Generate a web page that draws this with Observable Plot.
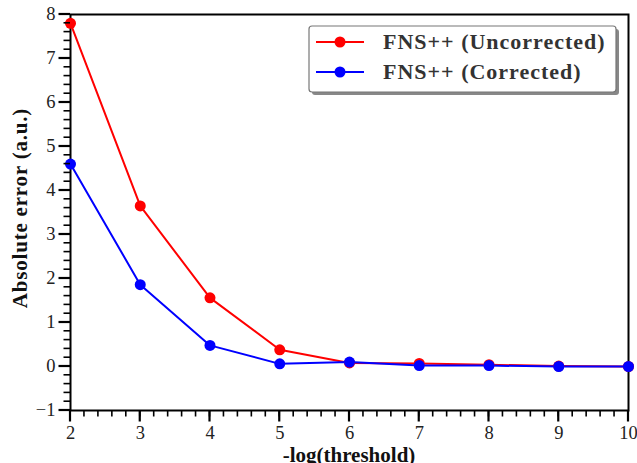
<!DOCTYPE html>
<html><head><meta charset="utf-8">
<script src="https://cdn.jsdelivr.net/npm/d3@7"></script>
<script src="https://cdn.jsdelivr.net/npm/@observablehq/plot@0.6"></script>
<style>
html,body{margin:0;padding:0;background:#fff;}
#chart{position:relative;width:637px;height:463px;overflow:hidden;}
</style>
</head><body><div id="chart"></div>
<script>
const thresholds = [2, 3, 4, 5, 6, 7, 8, 9, 10];
const uncorrected = [7.8, 3.65, 1.56, 0.38, 0.08, 0.07, 0.04, 0.01, 0.0];
const corrected = [4.6, 1.86, 0.48, 0.06, 0.10, 0.02, 0.02, 0.0, 0.0];
const seriesNames = ["FNS++ (Uncorrected)", "FNS++ (Corrected)"];
const seriesColors = ["#ff0000", "#0000ff"];
const xTicks = [2, 3, 4, 5, 6, 7, 8, 9, 10];
const yTicks = [-1, 0, 1, 2, 3, 4, 5, 6, 7, 8];
const xMinor = d3.range(2, 10.001, 0.2);
const yMinor = d3.range(-1, 8.001, 0.2);

const data = [];
thresholds.forEach((t, i) => {
  data.push({x: t, y: uncorrected[i], s: seriesNames[0]});
  data.push({x: t, y: corrected[i], s: seriesNames[1]});
});

const font = "'Liberation Serif', 'Times New Roman', serif";
const plot = Plot.plot({
  width: 637, height: 463,
  marginLeft: 70, marginRight: 9, marginTop: 14, marginBottom: 53,
  style: {fontFamily: font, fontSize: "18.5px", color: "#000", background: "#fff"},
  x: {domain: [2, 10], label: null},
  y: {domain: [-1, 8], label: null},
  color: {domain: seriesNames, range: seriesColors},
  marks: [
    Plot.axisX({ticks: xTicks, tickSize: 0, tickPadding: 15, fontSize: 18.5, fill: "#222", label: null, tickFormat: d3.format("d")}),
    Plot.axisY({ticks: yTicks, tickSize: 0, tickPadding: 15, fontSize: 18.5, fill: "#222", label: null, tickFormat: d3.format("d")}),
    Plot.frame({stroke: "#000", strokeWidth: 2}),
    Plot.line(data, {x: "x", y: "y", z: "s", stroke: "s", strokeWidth: 2}),
    Plot.dot(data, {x: "x", y: "y", fill: "s", r: 5.5})
  ]
});
document.getElementById("chart").appendChild(plot);

const svg = d3.select(plot);
const psx = plot.scale("x"), psy = plot.scale("y");
const sx = d3.scaleLinear().domain(psx.domain).range(psx.range);
const sy = d3.scaleLinear().domain(psy.domain).range(psy.range);
const x0 = sx(2), y0 = sy(-1);
const tg = svg.append("g");
function tick(x1, y1, x2, y2, w) {
  tg.append("line").attr("x1", x1).attr("y1", y1).attr("x2", x2).attr("y2", y2)
    .style("stroke", "#000").style("stroke-width", w + "px");
}
xMinor.forEach(v => tick(sx(v), y0, sx(v), y0 + 6.5, 1.6));
xTicks.forEach(v => tick(sx(v), y0, sx(v), y0 + 11.5, 2.2));
yMinor.forEach(v => tick(x0, sy(v), x0 - 6.5, sy(v), 1.6));
yTicks.forEach(v => tick(x0, sy(v), x0 - 11.5, sy(v), 2.2));

// axis titles
svg.append("text").attr("x", 349).attr("y", 462)
  .attr("text-anchor", "middle").attr("font-family", font)
  .attr("font-weight", "bold").attr("font-size", 21).attr("fill", "#111")
  .text("-log(threshold)");
svg.append("text").attr("transform", "translate(27,208) rotate(-90)")
  .attr("text-anchor", "middle").attr("font-family", font)
  .attr("font-weight", "bold").attr("font-size", 21).attr("letter-spacing", 0.8).attr("fill", "#111")
  .text("Absolute error (a.u.)");

// legend
const lg = svg.append("g");
lg.append("rect").attr("x", 312).attr("y", 29).attr("width", 307).attr("height", 66)
  .attr("rx", 3).attr("fill", "#888");
lg.append("rect").attr("x", 309).attr("y", 26).attr("width", 307).attr("height", 66)
  .attr("rx", 3).attr("fill", "#fff").attr("stroke", "#777").attr("stroke-width", 1.2);
seriesNames.forEach((name, i) => {
  const cy = 42 + i * 30;
  lg.append("line").attr("x1", 316).attr("x2", 364).attr("y1", cy).attr("y2", cy)
    .attr("stroke", seriesColors[i]).attr("stroke-width", 2);
  lg.append("circle").attr("cx", 340).attr("cy", cy).attr("r", 5.5).attr("fill", seriesColors[i]);
  lg.append("text").attr("x", 383).attr("y", cy + 7).attr("text-anchor", "start")
    .attr("font-family", font).attr("letter-spacing", 1)
    .attr("font-weight", "bold").attr("font-size", 22).attr("fill", "#333").text(name);
});
</script>
</body></html>
